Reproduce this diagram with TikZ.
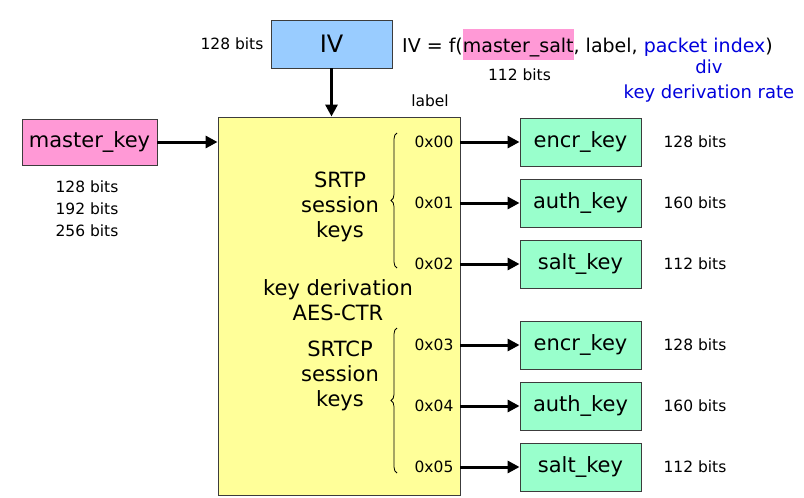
\documentclass[tikz,border=0pt]{standalone}
\usepackage{fontspec}
\setmainfont{DejaVu Sans}
\usepackage{xcolor}
\usetikzlibrary{arrows.meta, positioning, decorations.pathreplacing}
\definecolor{ivblue}{RGB}{153,204,255}
\definecolor{keypink}{RGB}{255,153,214}
\definecolor{derivyellow}{RGB}{255,255,153}
\definecolor{sessgreen}{RGB}{153,255,204}
\definecolor{ratenavy}{RGB}{0,0,220}
\definecolor{edgegray}{RGB}{60,60,60}

\tikzset{
    keybox/.style={draw=edgegray, line width=0.9pt, minimum width=121pt, minimum height=48pt, inner sep=0pt, font=\fontsize{21}{24}\selectfont},
    bigtxt/.style={align=center, inner sep=0pt, font=\fontsize{21}{25}\selectfont},
    smalltxt/.style={align=center, inner sep=0pt, font=\fontsize{15.5}{22}\selectfont},
    feed/.style={-{Triangle[length=12pt,width=12pt]}, line width=3pt},
    keybrace/.style={decorate, decoration={brace, amplitude=6pt}, line width=0.8pt}
}

\begin{document}
\begin{tikzpicture}[x=1pt, y=-1pt]
    \useasboundingbox (0,0) rectangle (804,498);

    % The Derivation Block
    \node[draw=edgegray, line width=0.9pt, fill=derivyellow, minimum width=242pt, minimum height=378pt] (kdf) at (339,306) {};
    \node[bigtxt] (kdftxt) at (338,300) {key derivation\\AES-CTR};

    % Inputs
    \node[keybox, fill=ivblue, font=\fontsize{24}{28}\selectfont] (iv) at (331.5,44) {IV};
    \node[keybox, fill=keypink, minimum width=135pt, minimum height=46pt] (mkey) at (89.5,142) {master\_key};
    \draw[feed] (iv) -- (iv |- kdf.north);
    \draw[feed] (mkey) -- (mkey -| kdf.west);

    % Input Labels
    \node[smalltxt] (ivbits) at (232,44) {128 bits};
    \node[smalltxt] (mkeybits) at (87,209) {128 bits\\192 bits\\256 bits};
    \node[anchor=west, inner sep=0pt, font=\fontsize{19}{22}\selectfont] (ivfun) at (402,44) {IV = f(\setlength{\fboxsep}{0pt}\colorbox{keypink}{\rule[-7pt]{0pt}{31pt}master\_salt}, label, \textcolor{ratenavy}{packet index})};
    \node[smalltxt] (saltbits) at (519.5,75) {112 bits};
    \node[align=center, inner sep=0pt, text=ratenavy, font=\fontsize{18}{25}\selectfont] (rate) at (709,81) {div\\key derivation rate};
    \node[smalltxt] (labelhd) at (430,101) {label};

    % Session Key Groups
    \node[bigtxt] (srtp) at (340,207) {SRTP\\session\\keys};
    \node[bigtxt] (srtcp) at (340,376) {SRTCP\\session\\keys};
    \draw[keybrace] (397,268) -- (397,133);
    \draw[keybrace] (397,473) -- (397,328);

    % Session Keys
    \foreach \i/\y/\kname/\bits in {0/142/encr/128, 1/203/auth/160, 2/264/salt/112, 3/345/encr/128, 4/406/auth/160, 5/467/salt/112} {
        \node[smalltxt] (hex\i) at (434,\y) {0x0\i};
        \node[keybox, fill=sessgreen] (sk\i) at (580.5,\y) {\kname\_key};
        \node[smalltxt] (bits\i) at (695,\y) {\bits\ bits};
        \draw[feed] (kdf.east |- sk\i) -- (sk\i);
    }
\end{tikzpicture}
\end{document}
